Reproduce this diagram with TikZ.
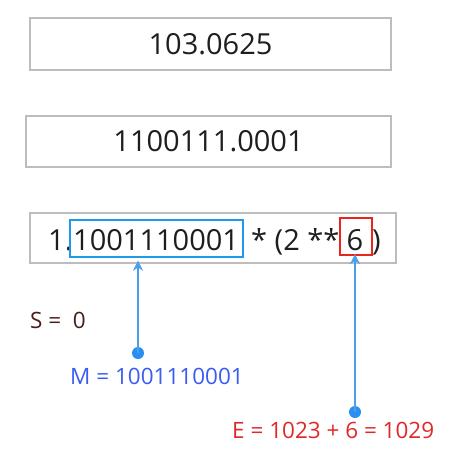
\documentclass[tikz,border=0pt]{standalone}
\usepackage{fontspec}
\setmainfont{Open Sans}
\usetikzlibrary{arrows.meta}
\definecolor{txt}{HTML}{1E1E1E}
\definecolor{frame}{HTML}{BDBDBD}
\definecolor{mblue}{HTML}{1E9BE8}
\definecolor{ered}{HTML}{E8261C}
\definecolor{arrowc}{HTML}{4AA0EA}
\definecolor{dotc}{HTML}{2A8FF0}
\definecolor{slab}{HTML}{4A1C1C}
\definecolor{mlab}{HTML}{3A5CF0}
\definecolor{elab}{HTML}{E0282A}
\begin{document}
\begin{tikzpicture}[x=1pt,y=-1pt,
  outerbox/.style={draw=frame,line width=1.4pt},
  bigtxt/.style={inner sep=0pt,text=txt,font=\fontsize{29}{34}\selectfont},
  labtxt/.style={inner sep=0pt,font=\fontsize{22.5}{27}\selectfont},
  conn/.style={draw=arrowc,line width=1.8pt,-{Stealth[length=10pt,width=10pt]}},
  dotn/.style={circle,fill=dotc,inner sep=0pt,minimum size=12pt}]
\useasboundingbox (0,0) rectangle (452,448);
% boxes
\node[outerbox,minimum width=361pt,minimum height=52pt,inner sep=0pt] (b1) at (210.5,44) {};
\node[bigtxt] (t1) at (b1.center) {103.0625};
\node[outerbox,minimum width=365pt,minimum height=51pt,inner sep=0pt] (b2) at (208.5,141.5) {};
\node[bigtxt] (t2) at (b2.center) {1100111.0001};
\node[outerbox,minimum width=366pt,minimum height=50pt,inner sep=0pt] (b3) at (213,238) {};
% row text
\node[bigtxt,anchor=base west] (one) at (48,250) {1.};
\node[bigtxt,anchor=base west] (mant) at (73,250) {1001110001};
\node[draw=mblue,line width=2.2pt,minimum width=173pt,minimum height=37pt,inner sep=0pt] (mbox) at (156.5,238.5) {};
\node[bigtxt,anchor=base west] (rest) at (251,250) {* (2 **};
\node[draw=ered,line width=2.2pt,minimum width=32pt,minimum height=37pt,inner sep=0pt] (ebox) at (356,236.5) {};
\node[bigtxt,anchor=base] (six) at (355,250) {6};
\node[bigtxt,anchor=base west] (close) at (372,250) {)};
% labels
\node[labtxt,text=slab,anchor=base west] (S) at (30,328) {S =\ \ 0};
\node[labtxt,text=mlab,anchor=base west] (M) at (70,384) {M = 1001110001};
\node[labtxt,text=elab,anchor=base west] (E) at (232,438) {E = 1023 + 6 = 1029};
% dots and connectors
\node[dotn] (mdot) at (138,353) {};
\node[dotn] (edot) at (355,412) {};
\draw[conn,shorten >=-3pt] (mdot.center) -- (mdot.center |- b3.south);
\draw[conn,shorten >=-2pt] (edot.center) -- (edot.center |- ebox.south);
\end{tikzpicture}
\end{document}
